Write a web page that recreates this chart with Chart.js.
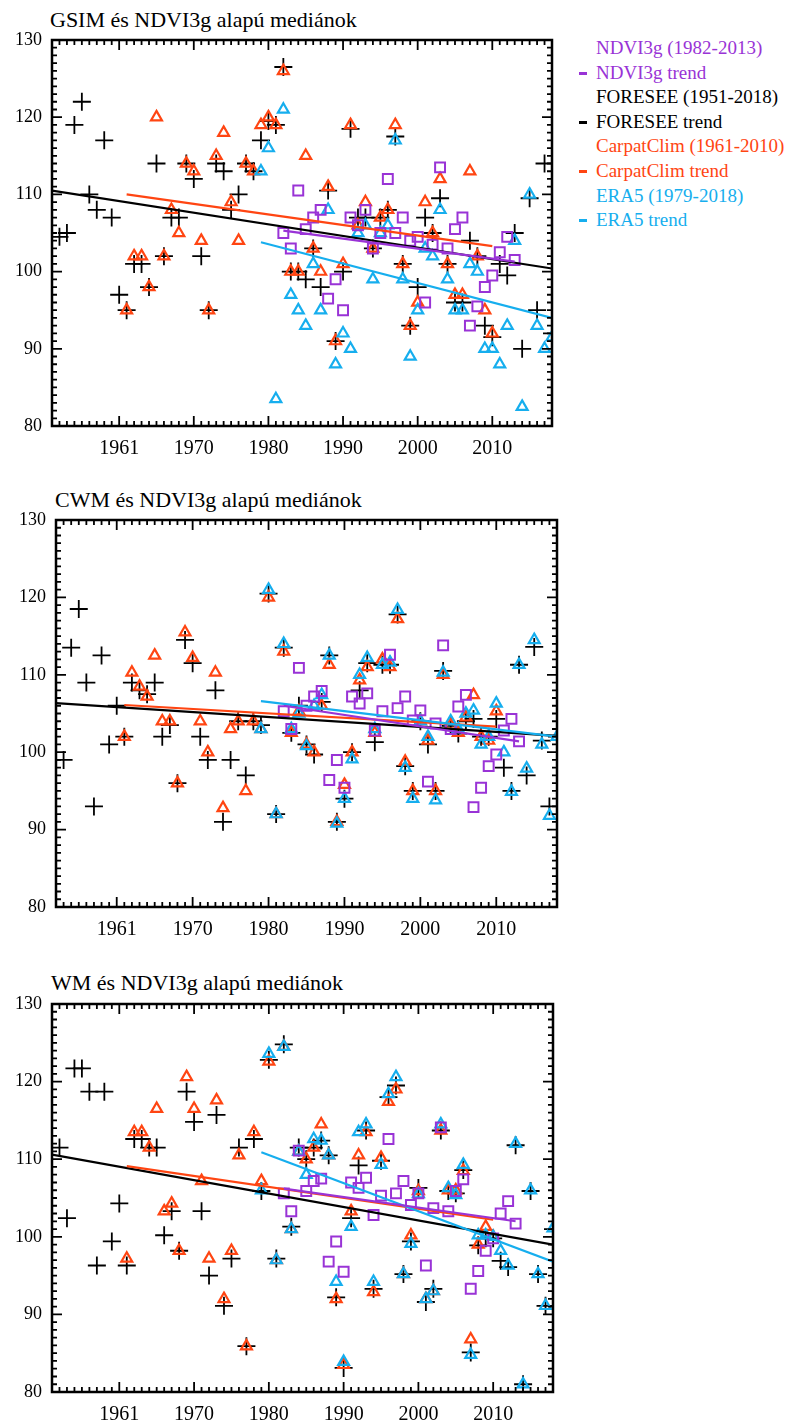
<!DOCTYPE html>
<html>
<head>
<meta charset="utf-8">
<script src="https://cdn.jsdelivr.net/npm/chart.js@4.4.1/dist/chart.umd.min.js"></script>
<style>
  body { margin: 0; background: #fff; }
  #page { position: relative; width: 787px; height: 1423px; overflow: hidden;
          font-family: "Liberation Serif", "Times New Roman", serif; }
  canvas { position: absolute; left: 0; }
  .title { position: absolute; font-size: 22px; line-height: 26px; color: #000; white-space: nowrap; }
  .leg { position: absolute; font-size: 19px; line-height: 24px; white-space: nowrap; }
  .dash { position: absolute; width: 8px; height: 3px; }
</style>
</head>
<body>
<div id="page">
  <div class="title" style="left:50px;top:7px">GSIM és NDVI3g alapú mediánok</div>
  <div class="title" style="left:55px;top:487px">CWM és NDVI3g alapú mediánok</div>
  <div class="title" style="left:51px;top:970px">WM és NDVI3g alapú mediánok</div>
  <canvas id="c1" width="575" height="470" style="top:0px"></canvas>
  <canvas id="c2" width="575" height="470" style="top:480px"></canvas>
  <canvas id="c3" width="575" height="459" style="top:964px"></canvas>
</div>
<script>
// year spans of each source
const foreseeSpan = [1951, 2018];
const carpatSpan = [1961, 2010];
const era5Span = [1979, 2018];
const ndviSpan = [1982, 2013];

const xTickValues = [1960, 1970, 1980, 1990, 2000, 2010];
const xTickLabels = ['1961', '1970', '1980', '1990', '2000', '2010'];
const yTickValues = [80, 90, 100, 110, 120, 130];

// GSIM panel
const gsimForesee = [null, 104.5, 105, 119, 122, 110, 108, 117, 107, 97,
  95, 101, 101, 98, 114, 102, 107, 107, 114, 112,
  102, 95, 114, 113, 108, 110, 114, 113, 117, 119.5,
  119, 126.5, 100, 100, 99, 103, 98, 110.5, 91, 100,
  118.5, 107, 107, 103, 107, 108, 117.5, 101, 93, 98,
  107, 105, 109.5, 101, 96, 96, 104, 102, 93, 91.5,
  101, 99.5, 105, 90, 109.5, 95, 114, 92];
const gsimCarpat = [95, 102, 102, 98, 120, 102, 108, 105, 114, 113,
  104, 95, 115, 118, 109, 104, 114, 113, 119, 120,
  119, 126, 100, 100, 115, 103, 100, 111, 91, 101,
  119, 106, 109, 103, 107, 108, 119, 101, 93, 96,
  109, 105, 112, 101, 97, 97, 113, 102, 95, 92];
const gsimEra5 = [113, 116, 83.5, 121, 97, 95, 93, 101, 95, 108,
  88, 92, 90, 105, 106, 99, 105, 106, 117, 99,
  89, 95, 103, 102, 108, 99, 95, 95, 101, 100,
  90, 90, 88, 93, 104, 82.5, 110, 93, 90, 91.5];
const gsimNdvi = [105, 103, 110.5, 105.5, 107, 108, 96.5, 99, 95, 107,
  106, 108, 103, 105, 112, 105, 107, 104, 104.5, 96,
  103.5, 113.5, 103, 105.5, 107, 93, 95.5, 98, 99.5, 102.5,
  104.5, 101.5];

// CWM panel
const cwmForesee = [null, null, 99, 113.5, 118.5, 109, 93, 112.5, 101, 106,
  102, 109, 108, 107.5, 109, 102, 103.5, 96, 114.5, 111.5,
  102, 99, 108, 91, 99, 104, 97, 104, 103.5, 120.5,
  92, 113.5, 102.5, 106, 101, 99.7, 106.5, 112.5, 91, 94,
  100, 108, 111.5, 101.3, 111.3, 111.3, 117.8, 98.2, 95, 104,
  101, 95, 110.5, 103.4, 102.4, 104, 104.3, 102, 102, 104.3,
  98, 95, 111.3, 97, 113.6, 101.5, 93, 102];
const cwmCarpat = [102, 110.3, 108.5, 107.2, 112.5, 104, 104, 96, 115.5, 112.2,
  104, 100, 110.3, 92.8, 103, 104, 95, 104, 103, 120,
  92, 113, 102.5, 105.3, 101, 100, 106, 111.3, 91, 95.8,
  100, 109.3, 111, 102.5, 112, 111, 117.2, 98.8, 95, 104,
  101.5, 95, 110, 103.5, 102.5, 104.5, 107.4, 102, 101.5, 105.3];
const cwmEra5 = [103, 121, 92, 114, 103, 105, 100.8, 106, 107.4, 112.5,
  90.8, 94, 99.1, 110, 112.2, 103, 111.3, 111.6, 118.4, 98,
  94, 104, 102, 93.8, 110.3, 104, 103, 105, 105.4, 101,
  102, 106.3, 100, 94.9, 111.3, 97.9, 114.5, 101, 91.8, 102];
const cwmNdvi = [105.3, 103, 110.9, 106, 107.2, 107.9, 96.4, 99, 95.4, 107.2,
  106.3, 107.6, 102.8, 105.3, 112.6, 105.7, 107.2, 104.1, 105.4, 96.2,
  103.7, 113.8, 103, 105.9, 107.4, 92.9, 95.4, 98.2, 99.7, 102.8,
  104.3, 101.4];

// WM panel
const wmForesee = [null, 111.5, 102.4, 121.7, 121.7, 118.7, 96.3, 118.7, 99.4, 104.3,
  96.3, 112.6, 112.6, 111.5, 111.5, 100.2, 103.3, 98.2, 118.7, 114.8,
  103.3, 95, 115.7, 91.1, 97.2, 111.5, 85.9, 112.6, 105.9, 122.8,
  97.2, 124.8, 101.3, 111.5, 110, 111.5, 112.4, 110.5, 92.2, 83.1,
  102.4, 109.2, 113.7, 93.3, 109.8, 118, 119.5, 95.2, 99.4, 106.3,
  91.6, 93.3, 113.7, 105.9, 105.6, 108.6, 85.1, 98.9, 99.8, 99.8,
  96.9, 96.1, 111.8, 81, 105.9, 95.2, 91.1, 101];
const wmCarpat = [97.2, 113.5, 113.5, 111.5, 116.5, 103.3, 104.3, 98.2, 120.6, 116.5,
  107.2, 97.2, 117.6, 92, 98.2, 110.5, 85.9, 113.5, 107.2, 122.6,
  97, 124.5, 101, 111, 110, 111.5, 114.5, 110.5, 92, 83.5,
  103.3, 110.5, 113.5, 92.9, 110.2, 117.4, 119, 95.2, 100.2, 105.9,
  92, 93, 113.7, 106, 106, 108.5, 86.8, 99, 101.3, 100];
const wmEra5 = [106, 123.6, 97, 124.5, 101, 111, 108, 112.6, 112.4, 110.5,
  94.2, 83.9, 101.3, 113.5, 114.5, 94.2, 109.3, 118.4, 120.6, 95.2,
  99.1, 105.5, 92, 93, 114.5, 106.3, 105.4, 109.3, 84.8, 100.2,
  100.2, 100, 98.2, 96.3, 112, 81, 106, 95.2, 91.1, 101.1];
const wmNdvi = [105.6, 103.3, 111.1, 105.9, 107.2, 107.5, 96.8, 99.4, 95.5, 107,
  106.3, 107.6, 102.8, 105.3, 112.6, 105.6, 107.2, 104.1, 105.6, 96.3,
  103.7, 114.1, 103.3, 105.9, 107.4, 93.3, 95.6, 98.2, 99.8, 103,
  104.6, 101.7];

// trend lines: value at the first and last year of each source
const gsimTrends = { foresee: [110.5, 100.4], carpat: [110, 103.3], era5: [103.8, 94], ndvi: [105.3, 101.3] };
const cwmTrends = { foresee: [106.4, 102.1], carpat: [106.1, 103.3], era5: [106.6, 102], ndvi: [106, 101.4] };
const wmTrends = { foresee: [110.6, 99], carpat: [109.1, 102.2], era5: [110.9, 96.8], ndvi: [106.2, 102] };

const colNdvi = '#9933D6';
const colForesee = '#000000';
const colCarpat = '#FF4512';
const colEra5 = '#16AEEE';
const fontFamily = '"Liberation Serif", "Times New Roman", serif';

// legend
const legendItems = [
  ['NDVI3g (1982-2013)', colNdvi, false],
  ['NDVI3g trend', colNdvi, true],
  ['FORESEE (1951-2018)', colForesee, false],
  ['FORESEE trend', colForesee, true],
  ['CarpatClim (1961-2010)', colCarpat, false],
  ['CarpatClim trend', colCarpat, true],
  ['ERA5 (1979-2018)', colEra5, false],
  ['ERA5 trend', colEra5, true]
];
const page = document.getElementById('page');
legendItems.forEach(function (item, i) {
  const cy = 48 + i * 24.6;
  const t = document.createElement('div');
  t.className = 'leg';
  t.textContent = item[0];
  t.style.color = item[1];
  t.style.left = '596px';
  t.style.top = (cy - 12) + 'px';
  page.appendChild(t);
  if (item[2]) {
    const d = document.createElement('div');
    d.className = 'dash';
    d.style.background = item[1];
    d.style.left = '579px';
    d.style.top = (cy - 1) + 'px';
    page.appendChild(d);
  }
});

function toPoints(values, firstYear) {
  return values.map(function (v, i) { return { x: firstYear + i, y: v }; })
    .filter(function (p) { return p.y !== null; });
}

function trendLine(ends, span, color) {
  return {
    data: [{ x: span[0], y: ends[0] }, { x: span[1], y: ends[1] }],
    showLine: true, borderColor: color, borderWidth: 2.2, pointRadius: 0, fill: false
  };
}

// draws the box and the inward tick marks
const frameTicks = {
  id: 'frameTicks',
  afterDraw(chart) {
    const ctx = chart.ctx, a = chart.chartArea, x = chart.scales.x, y = chart.scales.y;
    ctx.save();
    ctx.strokeStyle = '#000';
    ctx.lineWidth = 1.8;
    ctx.beginPath();
    for (let v = Math.ceil(x.min); v <= x.max; v++) {
      const px = x.getPixelForValue(v);
      const len = v % 10 === 0 ? 10 : 5;
      ctx.moveTo(px, a.bottom); ctx.lineTo(px, a.bottom - len);
      ctx.moveTo(px, a.top); ctx.lineTo(px, a.top + len);
    }
    for (let v = y.min; v <= y.max; v++) {
      const py = y.getPixelForValue(v);
      const len = v % 10 === 0 ? 10 : 5;
      ctx.moveTo(a.left, py); ctx.lineTo(a.left + len, py);
      ctx.moveTo(a.right, py); ctx.lineTo(a.right - len, py);
    }
    ctx.stroke();
    ctx.lineWidth = 2.5;
    ctx.strokeRect(a.left, a.top, a.right - a.left, a.bottom - a.top);
    ctx.restore();
  }
};

function makePanel(id, fore, carpat, era5, ndvi, trends, layout) {
  new Chart(document.getElementById(id), {
    type: 'scatter',
    data: {
      datasets: [
        trendLine(trends.ndvi, ndviSpan, colNdvi),
        trendLine(trends.era5, era5Span, colEra5),
        trendLine(trends.carpat, carpatSpan, colCarpat),
        trendLine(trends.foresee, foreseeSpan, colForesee),
        { data: toPoints(ndvi, ndviSpan[0]), pointStyle: 'rect', pointRadius: 7, pointBorderWidth: 2,
          borderColor: colNdvi, backgroundColor: 'rgba(0,0,0,0)' },
        { data: toPoints(era5, era5Span[0]), pointStyle: 'triangle', pointRadius: 6.3, pointBorderWidth: 2.2,
          borderColor: colEra5, backgroundColor: 'rgba(0,0,0,0)' },
        { data: toPoints(carpat, carpatSpan[0]), pointStyle: 'triangle', pointRadius: 6.3, pointBorderWidth: 2.2,
          borderColor: colCarpat, backgroundColor: 'rgba(0,0,0,0)' },
        { data: toPoints(fore, foreseeSpan[0]), pointStyle: 'cross', pointRadius: 9, pointBorderWidth: 1.8,
          borderColor: colForesee, backgroundColor: 'rgba(0,0,0,0)' }
      ]
    },
    options: {
      responsive: false,
      animation: false,
      events: [],
      layout: { padding: { top: layout.top, right: layout.right, left: 0, bottom: 0 } },
      plugins: { legend: { display: false }, tooltip: { enabled: false } },
      scales: {
        x: {
          type: 'linear', min: layout.xMin, max: 2018,
          grid: { display: false, drawTicks: false },
          border: { display: false },
          afterBuildTicks: function (s) { s.ticks = xTickValues.map(function (v) { return { value: v }; }); },
          afterFit: function (s) { s.height = layout.xHeight; },
          ticks: {
            color: '#000', padding: 11, maxRotation: 0, autoSkip: false,
            font: { family: fontFamily, size: 20 },
            callback: function (v, i) { return xTickLabels[i]; }
          }
        },
        y: {
          min: 80, max: 130,
          grid: { display: false, drawTicks: false },
          border: { display: false },
          afterBuildTicks: function (s) { s.ticks = yTickValues.map(function (v) { return { value: v }; }); },
          afterFit: function (s) { s.width = layout.left; },
          ticks: { color: '#000', padding: 10, font: { family: fontFamily, size: 18 } }
        }
      }
    },
    plugins: [frameTicks]
  });
}

makePanel('c1', gsimForesee, gsimCarpat, gsimEra5, gsimNdvi, gsimTrends,
  { left: 52, right: 23, top: 40, xHeight: 44, xMin: 1951 });
makePanel('c2', cwmForesee, cwmCarpat, cwmEra5, cwmNdvi, cwmTrends,
  { left: 56, right: 18, top: 40, xHeight: 43, xMin: 1952 });
makePanel('c3', wmForesee, wmCarpat, wmEra5, wmNdvi, wmTrends,
  { left: 52, right: 22, top: 40, xHeight: 31, xMin: 1951 });
</script>
</body>
</html>
